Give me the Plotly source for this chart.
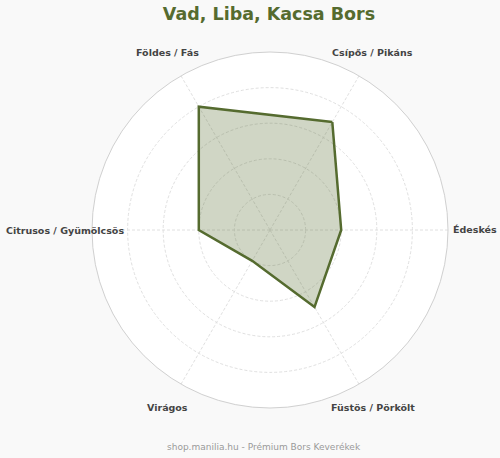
import math
import plotly.graph_objects as go

# Flavour profile data
categories = ['Csípős / Pikáns', 'Édeskés', 'Füstös / Pörkölt', 'Virágos',
              'Citrusos / Gyümölcsös', 'Földes / Fás']
values = [7, 4, 5, 2, 4, 8]
title_text = 'Vad, Liba, Kacsa Bors'
footer_text = 'shop.manilia.hu - Prémium Bors Keverékek'

olive = '#556B2F'
W, H = 500, 458
cx, cy, R = 270, 230, 178  # polar centre / radius in px

fig = go.Figure()
fig.add_trace(go.Scatterpolar(
    r=values + values[:1],
    theta=categories + categories[:1],
    mode='lines',
    fill='toself',
    fillcolor='rgba(85,107,47,0.28)',
    line=dict(color=olive, width=2.5),
    hoverinfo='skip',
))

# category labels placed centred just outside the ring
annotations = []
for i, cat in enumerate(categories):
    ang = math.radians(60 - 60 * i)
    px = cx + 205 * math.cos(ang)
    py = cy - 205 * math.sin(ang)
    annotations.append(dict(
        x=px / W, y=1 - py / H, xref='paper', yref='paper',
        text=f'<b>{cat}</b>', showarrow=False,
        xanchor='center', yanchor='middle',
        font=dict(size=9.5, color='#444444', family='DejaVu Sans'),
    ))

annotations.append(dict(
    x=0.527, y=1 - 447 / H, xref='paper', yref='paper',
    text=footer_text, showarrow=False, xanchor='center', yanchor='middle',
    font=dict(size=9, color='#999999', family='DejaVu Sans'),
))

fig.update_layout(
    width=W, height=H,
    margin=dict(l=0, r=0, t=0, b=0),
    paper_bgcolor='#f9f9f9',
    showlegend=False,
    font=dict(family='DejaVu Sans'),
    title=dict(text=f'<b>{title_text}</b>', x=0.538, xanchor='center',
               y=1 - 14 / H, yanchor='middle',
               font=dict(size=17.5, color=olive, family='DejaVu Sans')),
    polar=dict(
        domain=dict(x=[(cx - R) / W, (cx + R) / W],
                    y=[1 - (cy + R) / H, 1 - (cy - R) / H]),
        bgcolor='white',
        radialaxis=dict(range=[0, 10], tickvals=[2, 4, 6, 8],
                        showticklabels=False, ticks='', showline=False,
                        gridcolor='#e0e0e0', griddash='3px,2px', gridwidth=0.8),
        angularaxis=dict(rotation=60, direction='clockwise',
                         showticklabels=False, ticks='',
                         showline=True, linecolor='#d0d0d0', linewidth=1,
                         gridcolor='#e0e0e0', griddash='3px,2px', gridwidth=0.8),
    ),
    annotations=annotations,
)

fig.write_html('out.html', config={'displayModeBar': False},
               post_script="document.body.style.margin='0';"
               "document.body.style.background='#f9f9f9';")
